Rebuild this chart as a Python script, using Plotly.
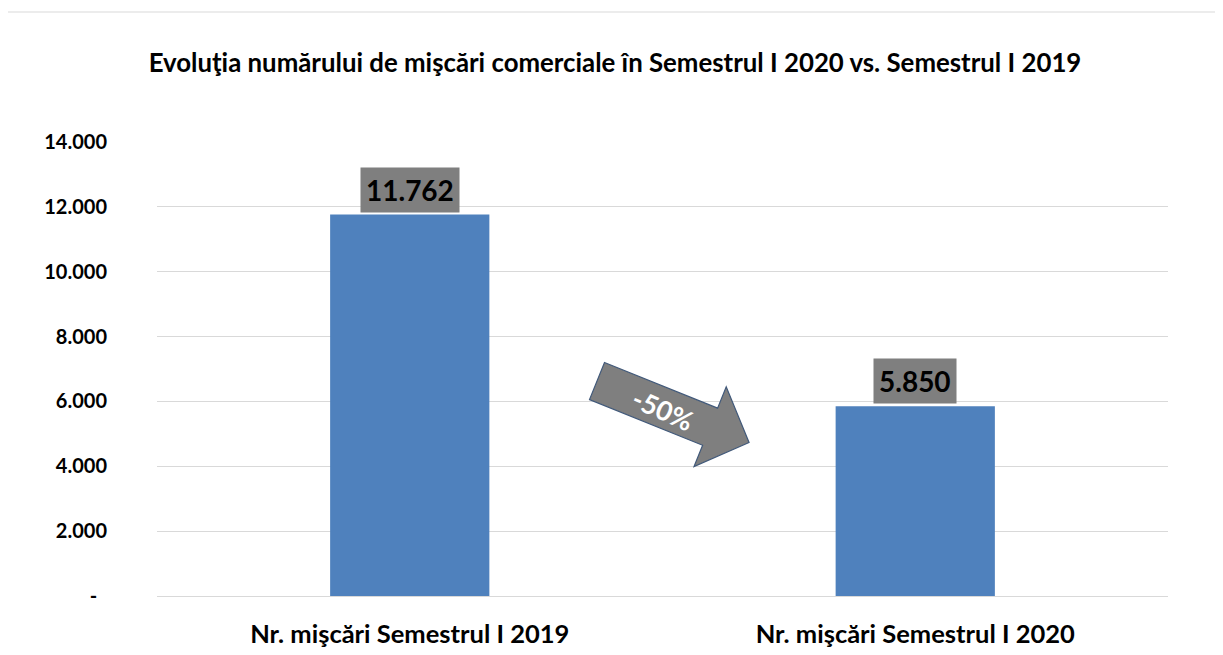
import math
import plotly.graph_objects as go

categories = ["Nr. mişcări Semestrul I 2019", "Nr. mişcări Semestrul I 2020"]
values = [11762, 5850]
value_labels = ["11.762", "5.850"]
tick_vals = [0, 2000, 4000, 6000, 8000, 10000, 12000, 14000]
tick_text = ["-\u00a0\u00a0", "2.000", "4.000", "6.000", "8.000", "10.000", "12.000", "14.000"]
change_label = "-50%"
title_text = "Evoluţia numărului de mişcări comerciale în Semestrul I 2020 vs. Semestrul I 2019"

W, H = 1223, 655
OFF = 8  # page body margin
# plot area in window pixels
WL, WR, WT, WB = 157, 1168, 142, 596
L, T = WL - OFF, WT - OFF
R, B = W - (WR - OFF), H - (WB - OFF)
PW, PH = WR - WL, WB - WT
FONT = "Lato, Liberation Sans, sans-serif"

def px(x):
    return (x - WL) / PW

def py(y):
    return (WB - y) / PH

fig = go.Figure()
fig.add_trace(go.Bar(x=categories, y=values, marker_color="#4f81bd",
                     marker_line_width=0, width=0.315, hoverinfo="skip"))

for c, v, t in zip(categories, values, value_labels):
    fig.add_annotation(x=c, y=v, xref="x", yref="y", text="<b>%s</b>" % t,
                       showarrow=False, yanchor="bottom", yshift=2,
                       bgcolor="#7f7f7f", borderpad=5,
                       font=dict(family=FONT, size=28, color="#000000"))

# block arrow (decoration)
cx, cy = 597, 381
ang = math.radians(22)
dx, dy = math.cos(ang), math.sin(ang)
nx, ny = -dy, dx
shaft_len, shaft_hw, head_hw, head_len = 122, 20, 43, 42
pts = []
for a, b in [(0, -shaft_hw), (shaft_len, -shaft_hw), (shaft_len, -head_hw),
             (shaft_len + head_len, 0), (shaft_len, head_hw), (shaft_len, shaft_hw),
             (0, shaft_hw)]:
    X = cx + a * dx + b * nx
    Y = cy + a * dy + b * ny
    pts.append((px(X), py(Y)))
path = "M " + " L ".join("%f,%f" % p for p in pts) + " Z"
fig.add_shape(type="path", path=path, xref="paper", yref="paper",
              fillcolor="#7f7f7f", line=dict(color="#41597a", width=1.2), layer="above")
fig.add_annotation(x=px(663), y=py(410), xref="paper", yref="paper", text="<b>%s</b>" % change_label,
                   showarrow=False, textangle=24,
                   font=dict(family=FONT, size=27, color="#ffffff"))

# outer border
fig.add_shape(type="rect", xref="paper", yref="paper",
              x0=px(7), x1=px(1229), y0=py(12), y1=py(665),
              line=dict(color="#d9d9d9", width=1), layer="below")

fig.update_layout(
    width=W, height=H,
    margin=dict(l=L, r=R, t=T, b=B),
    paper_bgcolor="#ffffff", plot_bgcolor="#ffffff",
    showlegend=False,
    title=dict(text="<b>%s</b>" % title_text, x=(615 - OFF) / W, xref="container", xanchor="center",
               y=1 - (63 - OFF) / H, yanchor="middle",
               font=dict(family=FONT, size=25.8, color="#000000")),
    xaxis=dict(showgrid=False, showline=False, ticks="", ticklabelstandoff=20,
               tickfont=dict(family=FONT, size=25.5, color="#000000", weight="bold")),
    yaxis=dict(range=[0, 14000], tickvals=tick_vals, ticktext=tick_text,
               showgrid=True, gridcolor="#d9d9d9", gridwidth=1,
               zeroline=True, zerolinecolor="#d9d9d9", zerolinewidth=1,
               showline=False, ticks="", ticklabelstandoff=49,
               tickfont=dict(family=FONT, size=20, color="#000000", weight="bold")),
)

fig.write_html("out.html")
